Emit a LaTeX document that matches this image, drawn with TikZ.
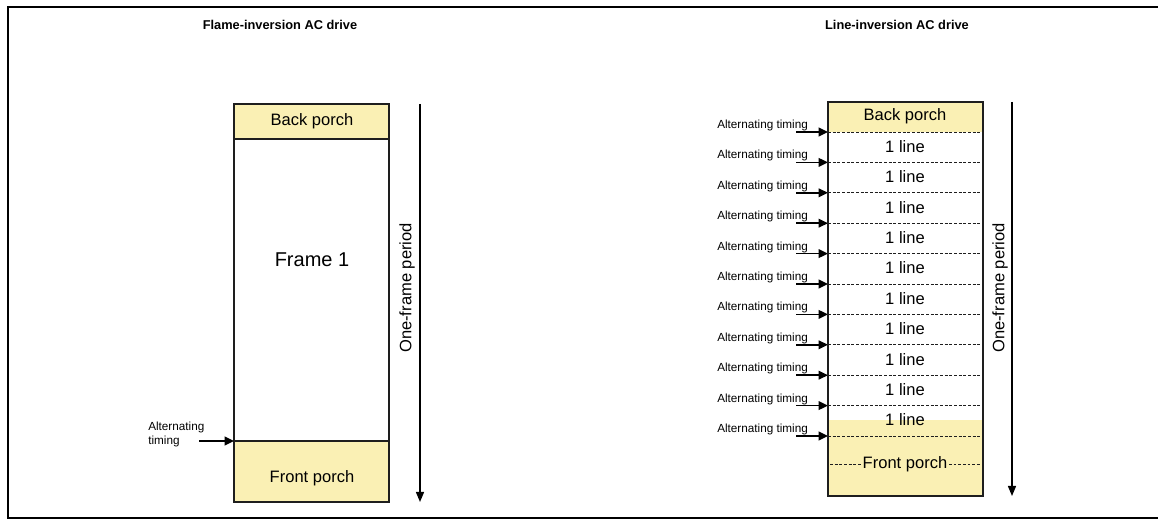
\documentclass[tikz,border=0pt]{standalone}
\usepackage{fontspec}
\setmainfont{Liberation Sans}
\usetikzlibrary{positioning,arrows.meta}
\definecolor{porchyellow}{RGB}{250,240,180}
\definecolor{framegray}{RGB}{30,30,30}

\begin{document}
\begin{tikzpicture}[x=0.75pt, y=-0.75pt,
        box line/.style={draw=framegray, line width=1.1pt},
        porch fill/.style={fill=porchyellow},
        sep line/.style={draw=framegray, line width=0.5pt, dash pattern=on 2.2pt off 1.3pt},
        timing/.style={draw=black, line width=1.1pt, -{Triangle[length=7pt, width=6.5pt]}},
        period/.style={draw=black, line width=1pt, -{Triangle[length=7.5pt, width=6pt]}},
        title text/.style={font=\bfseries\fontsize{9.6}{12}\selectfont, inner sep=0pt},
        box text/.style={font=\fontsize{12.4}{14}\selectfont, inner sep=1pt},
        small text/.style={font=\fontsize{8.8}{10.5}\selectfont, inner sep=0pt, align=left}]

    \useasboundingbox (0,0) rectangle (1158,520);
    \draw[line width=1.3pt] (1158,7) -- (8,7) -- (8,518) -- (1158,518);

    % Titles
    \node[title text] (title1) at (280,25) {Flame-inversion AC drive};
    \node[title text] (title2) at (897,25) {Line-inversion AC drive};

    % Frame-inversion: one frame with back and front porch
    \fill[porch fill] (234,104) rectangle (389,139);
    \fill[porch fill] (234,441) rectangle (389,502);
    \draw[box line] (234,139) -- (389,139);
    \draw[box line] (234,441) -- (389,441);
    \draw[box line] (234,104) rectangle (389,502);
    \node[box text] (back1) at (312,121.5) {Back porch};
    \node[font=\fontsize{15}{18}\selectfont] (frame1) at (312,260) {Frame 1};
    \node[box text] (front1) at (312,478) {Front porch};

    \coordinate (alt1 head) at (234,441);
    \coordinate (alt1 tail) at (199,441);
    \node[small text, anchor=south west] (alt1) at (148,447) {Alternating\\timing};
    \draw[timing] (alt1 tail) -- (alt1 head);

    \coordinate (per1 top) at (420,104);
    \coordinate (per1 end) at (420,502);
    \draw[period] (per1 top) -- (per1 end);
    \node[box text, rotate=90] (per1) at (407,288) {One-frame period};

    % Line-inversion: one alternation per line
    \fill[porch fill] (828,102) rectangle (983,132);
    \fill[porch fill] (828,420) rectangle (983,496);
    \foreach \k [evaluate=\k as \yy using 132+30.4*\k] in {0,...,10} {
        \coordinate (sep\k) at (828,\yy);
        \coordinate (tail\k) at (796,\yy);
        \draw[sep line] (sep\k) -- (983,\yy);
        \draw[timing] (tail\k) -- (sep\k);
        \node[small text, anchor=west] (alt\k) at (717,\yy-6.5) {Alternating timing};
    }
    \foreach \k [evaluate=\k as \yy using 116+30.4*\k] in {1,...,10}
        \node[box text] (line\k) at (905,\yy) {1 line};
    \draw[box line] (828,102) rectangle (983,496);
    \node[box text] (back2) at (905,116) {Back porch};
    \node[box text, fill=porchyellow] (front2) at (905,464) {Front porch};
    \draw[sep line] (830,464) -- (front2.west);
    \draw[sep line] (front2.east) -- (981,464);

    \coordinate (per2 top) at (1012,102);
    \coordinate (per2 end) at (1012,496);
    \draw[period] (per2 top) -- (per2 end);
    \node[box text, rotate=90] (per2) at (1000,288) {One-frame period};

\end{tikzpicture}
\end{document}
